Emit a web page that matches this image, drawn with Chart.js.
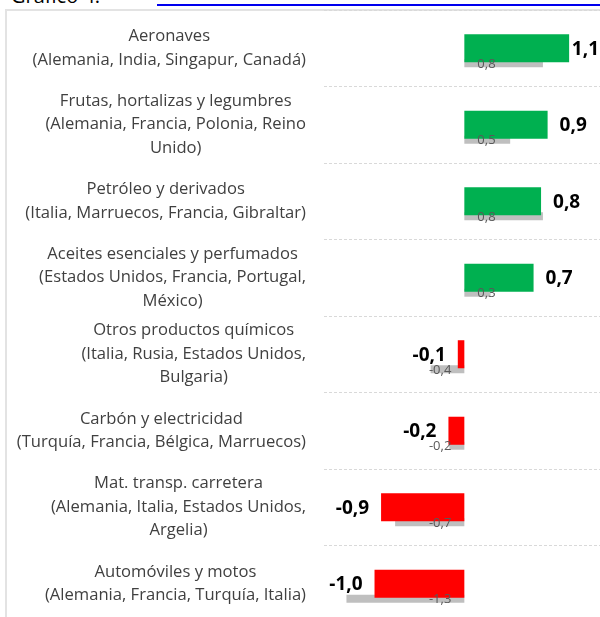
<!DOCTYPE html>
<html>
<head>
<meta charset="utf-8">
<script src="https://cdn.jsdelivr.net/npm/chart.js@4"></script>
<style>
html, body { margin: 0; padding: 0; background: #fff; overflow: hidden; }
#title { position: absolute; left: 11px; top: -18px; font: 20px "Open Sans", sans-serif; color: #000; white-space: nowrap; }
#link { position: absolute; left: 157px; top: 4px; width: 443px; height: 0; border-bottom: 2px solid #0000ee; }
#frame { position: absolute; left: 5px; top: 9px; width: 700px; height: 700px; border-left: 2px solid #e3e3e3; border-top: 2px solid #e3e3e3; background: #fff; }
#chart { position: absolute; left: 0; top: 0; }
</style>
</head>
<body>
<div id="title">Gráfico 4.</div>
<div id="link"></div>
<div id="frame"></div>
<canvas id="chart" width="600" height="630"></canvas>
<script>
const categories = [
    ["Aeronaves", "(Alemania, India, Singapur, Canadá)"],
    ["Frutas, hortalizas y legumbres", "(Alemania, Francia, Polonia, Reino", "Unido)"],
    ["Petróleo y derivados", "(Italia, Marruecos, Francia, Gibraltar)"],
    ["Aceites esenciales y perfumados", "(Estados Unidos, Francia, Portugal,", "México)"],
    ["Otros productos químicos", "(Italia, Rusia, Estados Unidos,", "Bulgaria)"],
    ["Carbón y electricidad", "(Turquía, Francia, Bélgica, Marruecos)"],
    ["Mat. transp. carretera", "(Alemania, Italia, Estados Unidos,", "Argelia)"],
    ["Automóviles y motos", "(Alemania, Francia, Turquía, Italia)"],
];
const current = [1.12, 0.89, 0.82, 0.74, -0.07, -0.17, -0.89, -0.96];
const previous = [0.84, 0.49, 0.84, 0.28, -0.36, -0.16, -0.74, -1.26];
const spacer = categories.map(() => null);

const textColor = "#404040";
const fmt = (v) => v.toFixed(1).replace(".", ",");

const labelPlugin = {
    id: "labels",
    afterDatasetsDraw(chart) {
        const ctx = chart.ctx;
        const yScale = chart.scales.y;
        ctx.save();
        ctx.textBaseline = "middle";

        // category names: block right-aligned, lines centred inside the block
        ctx.font = "16.6px 'Open Sans'";
        ctx.fillStyle = textColor;
        ctx.textAlign = "center";
        categories.forEach((lines, i) => {
            const y = yScale.getPixelForValue(i);
            const w = Math.max(...lines.map((l) => ctx.measureText(l).width));
            const cx = yScale.right - 18 - w / 2;
            lines.forEach((l, j) => {
                ctx.fillText(l, cx, y + (j - (lines.length - 1) / 2) * 23.5);
            });
        });

        // previous values, inside base
        ctx.font = "13px 'Open Sans'";
        ctx.fillStyle = "#595959";
        chart.getDatasetMeta(2).data.forEach((bar, i) => {
            const v = previous[i];
            if (v >= 0) {
                ctx.textAlign = "left";
                ctx.fillText(fmt(v), bar.base + 13, bar.y + 1);
            } else {
                ctx.textAlign = "right";
                ctx.fillText(fmt(v), bar.base - 13, bar.y + 1);
            }
        });

        // current values, outside end
        ctx.font = "bold 19px 'Open Sans'";
        ctx.fillStyle = "#000";
        chart.getDatasetMeta(1).data.forEach((bar, i) => {
            const v = current[i];
            const t = fmt(v);
            if (v >= 0) {
                const w = ctx.measureText(t).width;
                ctx.textAlign = "left";
                ctx.fillText(t, Math.min(bar.x + 12, 599 - w), bar.y + 1);
            } else {
                ctx.textAlign = "right";
                ctx.fillText(t, bar.x - 12, bar.y + 1);
            }
        });
        ctx.restore();
    },
};

new Chart(document.getElementById("chart"), {
    type: "bar",
    data: {
        labels: categories,
        datasets: [
            {
                label: "spacer",
                data: spacer,
                backgroundColor: "rgba(0,0,0,0)",
            },
            {
                label: "Actual",
                data: current,
                backgroundColor: current.map((v) => (v >= 0 ? "#00b050" : "#ff0000")),
                barPercentage: 1.87,
            },
            {
                label: "Anterior",
                data: previous,
                backgroundColor: "#bfbfbf",
                barPercentage: 0.53,
            },
        ],
    },
    options: {
        indexAxis: "y",
        responsive: false,
        animation: false,
        layout: { padding: { top: 10, bottom: 8, left: 0, right: 0 } },
        datasets: { bar: { categoryPercentage: 0.588 } },
        plugins: {
            legend: { display: false },
            tooltip: { enabled: false },
        },
        scales: {
            x: { display: false, min: -1.5, max: 1.45 },
            y: {
                ticks: { display: false },
                grid: { color: "#d9d9d9", offset: true, drawTicks: false },
                border: { display: false, dash: [3, 2] },
                afterFit: (scale) => { scale.width = 324; },
            },
        },
    },
    plugins: [labelPlugin],
});
</script>
</body>
</html>
